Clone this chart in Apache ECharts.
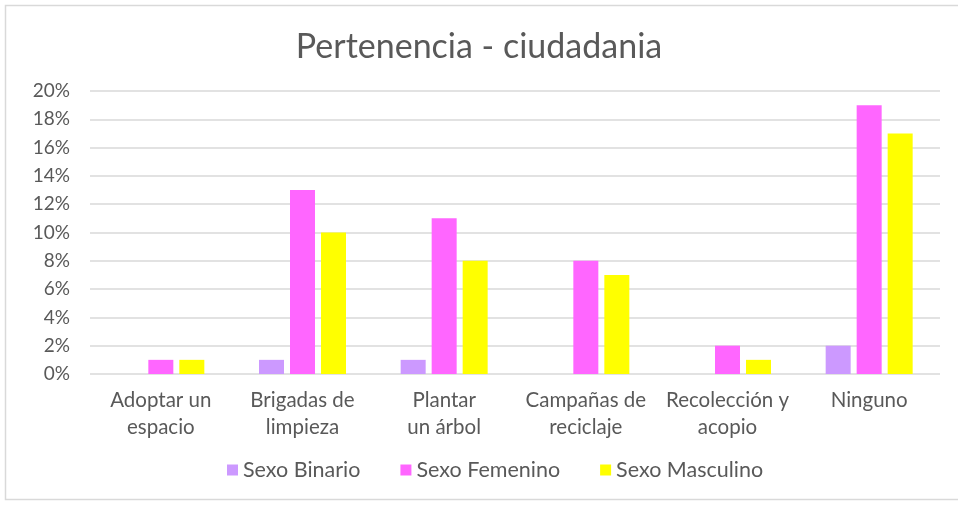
<!DOCTYPE html>
<html>
<head>
<meta charset="utf-8">
<script src="https://cdn.jsdelivr.net/npm/echarts@6/dist/echarts.min.js"></script>
<style>
  html, body { margin: 0; padding: 0; background: #fff; }
  #chart { width: 958px; height: 506px; }
</style>
</head>
<body>
<div id="chart"></div>
<script>
const categories = ['Adoptar un\nespacio', 'Brigadas de\nlimpieza', 'Plantar\nun árbol', 'Campañas de\nreciclaje', 'Recolección y\nacopio', 'Ninguno']
const binario = [0, 1, 1, 0, 0, 2]
const femenino = [1, 13, 11, 8, 2, 19]
const masculino = [1, 10, 8, 7, 1, 17]

const font = 'Lato, "Open Sans", sans-serif'
const chart = echarts.init(document.getElementById('chart'))

function bar(name, data, color) {
  return {
    name, type: 'bar', data,
    barWidth: 25, barGap: '24%',
    itemStyle: { color }
  }
}

chart.setOption({
  animation: false,
  graphic: [{
    type: 'rect', shape: { x: 5.5, y: 5.5, width: 960, height: 494 },
    style: { fill: 'none', stroke: '#d9d9d9', lineWidth: 1.5 }, silent: true
  }],
  title: {
    text: 'Pertenencia - ciudadania', left: 'center', top: 25,
    textStyle: { fontFamily: font, fontSize: 34, fontWeight: 'normal', color: '#595959' }
  },
  legend: {
    bottom: 20, left: 222, itemWidth: 11, itemHeight: 11, itemGap: 40,
    icon: 'rect',
    textStyle: { fontFamily: font, fontSize: 21.5, color: '#595959' },
    data: ['Sexo Binario', 'Sexo Femenino', 'Sexo Masculino']
  },
  grid: { left: 90, right: 18, top: 91, bottom: 132 },
  xAxis: {
    type: 'category', data: categories,
    axisLine: { show: false }, axisTick: { show: false },
    axisLabel: { fontFamily: font, fontSize: 20.5, color: '#595959', lineHeight: 27, margin: 13, interval: 0 }
  },
  yAxis: {
    type: 'value', min: 0, max: 20, interval: 2,
    axisLabel: { fontFamily: font, fontSize: 19, color: '#595959', formatter: '{value}%', margin: 20 },
    splitLine: { lineStyle: { color: '#d9d9d9', width: 1.5 } }
  },
  series: [
    bar('Sexo Binario', binario, '#CC99FF'),
    bar('Sexo Femenino', femenino, '#FF66FF'),
    bar('Sexo Masculino', masculino, '#FFFF00')
  ]
})
</script>
</body>
</html>
